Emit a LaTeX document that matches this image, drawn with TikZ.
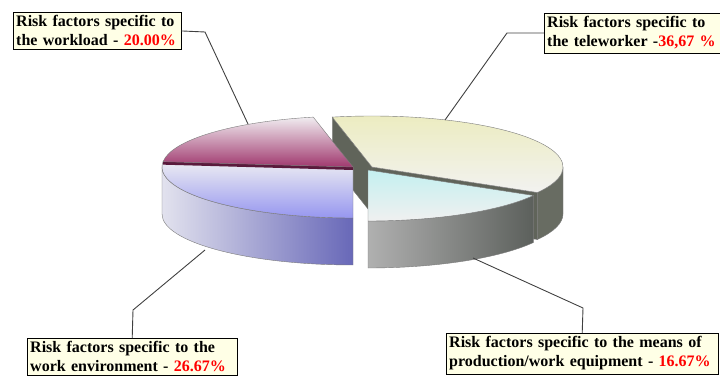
\documentclass[tikz,border=0pt]{standalone}
\usepackage{fontspec}
\setmainfont{Liberation Serif}
\usetikzlibrary{positioning}

\definecolor{lblfill}{HTML}{FFFFE6}
\definecolor{pctred}{HTML}{FF0000}
\definecolor{edgegray}{HTML}{7A7A7A}
\definecolor{leadgray}{HTML}{404040}
\definecolor{cutgray}{HTML}{60645A}
\definecolor{wlband}{HTML}{5A1A3C}

\newcommand{\pct}[1]{\textcolor{pctred}{#1}}
\newcommand{\rx}{191}
\newcommand{\ry}{51}
\newcommand{\thick}{47}

\begin{document}
\begin{tikzpicture}[x=1pt, y=1pt,
        lbl/.style={draw, fill=lblfill, anchor=north west, align=left, inner xsep=3pt, inner ysep=3.5pt,
            font=\bfseries\fontsize{16}{19}\selectfont},
        leader/.style={draw=leadgray, line width=0.9pt},
        slice/.style={draw=edgegray, line width=0.4pt}
    ]
        \useasboundingbox (0,0) rectangle (720,378);

        \coordinate (cl) at (353,211);
        \coordinate (ct) at (372,211);
        \coordinate (cm) at (368,208);

        % teleworker
        \filldraw[slice, fill=cutgray] (ct) -- ++(0,-\thick) -- ++(102:\rx pt and \ry pt) -- ++(0,\thick) -- cycle;
        \filldraw[slice, fill=cutgray] (ct) -- ++(0,-\thick) -- ++(330:\rx pt and \ry pt) -- ++(0,\thick) -- cycle;
        \filldraw[slice, fill=cutgray!95!white] (ct) ++(330:\rx pt and \ry pt)
            arc[start angle=330, end angle=360, x radius=\rx, y radius=\ry] -- ++(0,-\thick)
            arc[start angle=360, end angle=330, x radius=\rx, y radius=\ry] -- cycle;
        \shadedraw[slice, top color={rgb,255:red,236;green,236;blue,192}, bottom color={rgb,255:red,242;green,242;blue,240}]
            (ct) -- ++(330:\rx pt and \ry pt) arc[start angle=330, end angle=462, x radius=\rx, y radius=\ry] -- cycle;

        % work environment
        \shadedraw[slice, left color={rgb,255:red,226;green,226;blue,238}, right color={rgb,255:red,104;green,104;blue,184}]
            (cl) ++(180:\rx pt and \ry pt) arc[start angle=180, end angle=270, x radius=\rx, y radius=\ry] -- ++(0,-\thick)
            arc[start angle=270, end angle=180, x radius=\rx, y radius=\ry] -- cycle;
        \shadedraw[slice, top color={rgb,255:red,236;green,236;blue,242}, bottom color={rgb,255:red,150;green,150;blue,240}]
            (cl) -- ++(174:\rx pt and \ry pt) arc[start angle=174, end angle=270, x radius=\rx, y radius=\ry] -- cycle;

        % workload
        \fill[wlband] (cl) -- ++(0,-3) -- ++(174:\rx pt and \ry pt) -- ++(0,3) -- cycle;
        \shadedraw[slice, top color={rgb,255:red,240;green,236;blue,240}, bottom color={rgb,255:red,160;green,56;blue,110}]
            (cl) -- ++(102:\rx pt and \ry pt) arc[start angle=102, end angle=174, x radius=\rx, y radius=\ry] -- cycle;

        % means of production
        \shadedraw[slice, left color={rgb,255:red,176;green,176;blue,176}, right color={rgb,255:red,92;green,96;blue,92}]
            (cm) ++(270:\rx pt and \ry pt) arc[start angle=270, end angle=330, x radius=\rx, y radius=\ry] -- ++(0,-\thick)
            arc[start angle=330, end angle=270, x radius=\rx, y radius=\ry] -- cycle;
        \shadedraw[slice, top color={rgb,255:red,196;green,240;blue,240}, bottom color={rgb,255:red,240;green,240;blue,240}]
            (cm) -- ++(270:\rx pt and \ry pt) arc[start angle=270, end angle=330, x radius=\rx, y radius=\ry] -- cycle;

        % labels
        \node[lbl, text width=162pt] (wl) at (13,366) {Risk factors specific to\\the workload - \pct{20.00\%}};
        \node[lbl, text width=170pt] (tw) at (544,365) {Risk factors specific to\\the teleworker -\pct{36,67~\%}};
        \node[lbl, text width=204pt] (we) at (27,40) {Risk factors specific to the\\work environment - \pct{26.67\%}};
        \node[lbl, text width=266pt] (mp) at (446,45) {Risk factors specific to the means of\\production/work equipment - \pct{16.67\%}};

        \coordinate (wlbend) at (205,346);
        \coordinate (wlend) at (248,254);
        \coordinate (twbend) at (507,345);
        \coordinate (twend) at (445,258);
        \coordinate (webend) at (133,68);
        \coordinate (weend) at (205,128);
        \coordinate (mpbend) at (583,70);
        \coordinate (mpend) at (473,120);

        \draw[leader] (wl.east) -- (wlbend) -- (wlend);
        \draw[leader] (twbend -| tw.west) -- (twbend) -- (twend);
        \draw[leader] (we.north) -- (webend) -- (weend);
        \draw[leader] (mp.north) -- (mpbend) -- (mpend);
    \end{tikzpicture}
\end{document}
